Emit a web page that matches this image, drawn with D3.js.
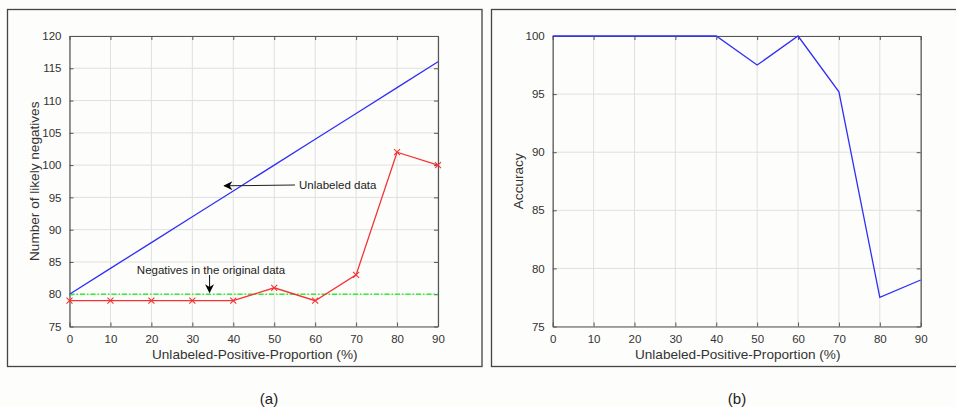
<!DOCTYPE html>
<html><head><meta charset="utf-8">
<script src="https://cdn.jsdelivr.net/npm/d3@7"></script>
<style>
html,body{margin:0;padding:0;background:#fdfdfb;}
svg{display:block;font-family:Arial,"Liberation Sans",sans-serif;}
</style></head><body>
<script>
const proportion = [0,10,20,30,40,50,60,70,80,90];
const unlabeledData = [80,84,88,92,96,100,104,108,112,116];
const likelyNegatives = [79,79,79,79,79,81,79,83,102,100];
const originalNegatives = [80,80,80,80,80,80,80,80,80,80];
const accuracy = [100,100,100,100,100,97.5,100,95.2,77.5,79];
const xTicks = [0,10,20,30,40,50,60,70,80,90];
const yTicksA = [75,80,85,90,95,100,105,110,115,120];
const yTicksB = [75,80,85,90,95,100];

const W=956,H=407;
const svg=d3.select("body").append("svg").attr("width",W).attr("height",H);
svg.append("rect").attr("width",W).attr("height",H).attr("fill","#fdfdfb");

svg.append("rect").attr("x",7.5).attr("y",9.5).attr("width",474.5).attr("height",357)
  .attr("fill","none").attr("stroke","#444").attr("stroke-width",1.3);
svg.append("rect").attr("x",491.5).attr("y",9.5).attr("width",480).attr("height",357)
  .attr("fill","none").attr("stroke","#444").attr("stroke-width",1.3);

function panel(x0,x1,yDom,yTicks,yLabel,ylx){
  const x=d3.scaleLinear().domain([0,90]).range([x0,x1]);
  const y=d3.scaleLinear().domain(yDom).range([326.5,36]);
  const g=svg.append("g");
  g.selectAll(".gx").data(xTicks).join("line")
    .attr("x1",d=>x(d)).attr("x2",d=>x(d)).attr("y1",36).attr("y2",326.5)
    .attr("stroke","#e0e0e0").attr("stroke-width",1);
  g.selectAll(".gy").data(yTicks).join("line")
    .attr("y1",d=>y(d)).attr("y2",d=>y(d)).attr("x1",x0).attr("x2",x1)
    .attr("stroke","#e0e0e0").attr("stroke-width",1);
  const ax=d3.axisBottom(x).tickValues(xTicks).tickSizeInner(-4).tickSizeOuter(0).tickPadding(8);
  const ay=d3.axisLeft(y).tickValues(yTicks).tickSizeInner(-4).tickSizeOuter(0).tickPadding(8);
  const axT=d3.axisTop(x).tickValues(xTicks).tickSizeInner(-4).tickSizeOuter(0).tickFormat("");
  const ayR=d3.axisRight(y).tickValues(yTicks).tickSizeInner(-4).tickSizeOuter(0).tickFormat("");
  const style=s=>{s.select(".domain").attr("stroke","#555").attr("stroke-width",1.2);
    s.selectAll(".tick line").attr("stroke","#555");
    s.selectAll("text").attr("fill","#333").attr("font-size","11.5px").attr("font-family","Arial,'Liberation Sans',sans-serif");};
  g.append("g").attr("transform",`translate(0,326.5)`).call(ax).call(style);
  g.append("g").attr("transform",`translate(${x0},0)`).call(ay).call(style);
  g.append("g").attr("transform",`translate(0,36)`).call(axT).call(style);
  g.append("g").attr("transform",`translate(${x1},0)`).call(ayR).call(style);
  g.append("text").attr("x",(x0+x1)/2+1).attr("y",359).attr("text-anchor","middle")
    .attr("font-size","13.6px").attr("fill","#333").text("Unlabeled-Positive-Proportion (%)");
  g.append("text").attr("transform",`translate(${ylx},${(36+326.5)/2}) rotate(-90)`)
    .attr("text-anchor","middle").attr("font-size","13.6px").attr("fill","#333").text(yLabel);
  return {x,y,g};
}

const A=panel(69.5,438,[75,120],yTicksA,"Number of likely negatives",39);
const lineA=d3.line().x((d,i)=>A.x(proportion[i])).y(d=>A.y(d));
A.g.append("path").datum(originalNegatives).attr("d",lineA).attr("fill","none")
  .attr("stroke","#33ee33").attr("stroke-width",1.6).attr("stroke-dasharray","5,2,1.5,2");
A.g.append("path").datum(unlabeledData).attr("d",lineA).attr("fill","none")
  .attr("stroke","#3030f5").attr("stroke-width",1.3);
A.g.append("path").datum(likelyNegatives).attr("d",lineA).attr("fill","none")
  .attr("stroke","#f53333").attr("stroke-width",1.3);
A.g.selectAll(".mk").data(likelyNegatives).join("path")
  .attr("transform",(d,i)=>`translate(${A.x(proportion[i])},${A.y(d)})`)
  .attr("d","M-3,-3L3,3M-3,3L3,-3").attr("stroke","#f53333").attr("stroke-width",1.1);

svg.append("defs").append("marker").attr("id","ah").attr("viewBox","0 0 10 10")
  .attr("refX",9).attr("refY",5).attr("markerWidth",11).attr("markerHeight",9)
  .attr("markerUnits","userSpaceOnUse").attr("orient","auto")
  .append("path").attr("d","M0,0L10,5L0,10L3,5Z").attr("fill","#000");
A.g.append("line").attr("x1",295).attr("y1",185).attr("x2",A.x(37.8)).attr("y2",185.8)
  .attr("stroke","#222").attr("stroke-width",1.1).attr("marker-end","url(#ah)");
A.g.append("text").attr("x",299).attr("y",189).attr("font-size","11.5px").attr("fill","#222").text("Unlabeled data");
A.g.append("line").attr("x1",A.x(34.2)).attr("y1",275).attr("x2",A.x(34.2)).attr("y2",A.y(80.3))
  .attr("stroke","#222").attr("stroke-width",1.1).attr("marker-end","url(#ah)");
A.g.append("text").attr("x",211).attr("y",274).attr("text-anchor","middle").attr("font-size","11.5px").attr("fill","#222").text("Negatives in the original data");

const B=panel(552.7,920.7,[75,100],yTicksB,"Accuracy",523);
const lineB=d3.line().x((d,i)=>B.x(proportion[i])).y(d=>B.y(d));
B.g.append("path").datum(accuracy).attr("d",lineB).attr("fill","none")
  .attr("stroke","#3030f5").attr("stroke-width",1.3);

svg.append("text").attr("x",269).attr("y",404).attr("text-anchor","middle").attr("font-size","15px").attr("fill","#222").text("(a)");
svg.append("text").attr("x",737).attr("y",404).attr("text-anchor","middle").attr("font-size","15px").attr("fill","#222").text("(b)");
</script>
</body></html>
